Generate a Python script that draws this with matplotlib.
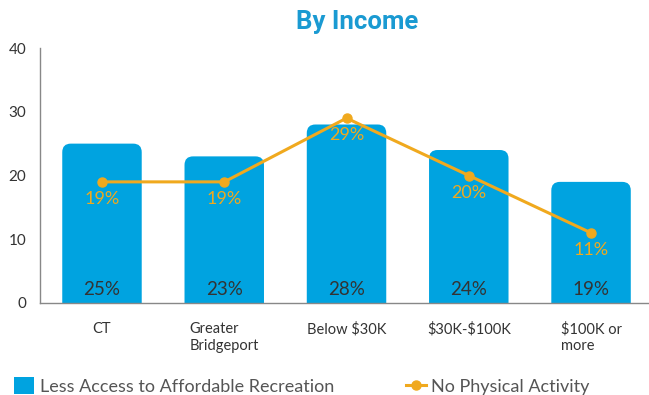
import matplotlib
matplotlib.use("Agg")
import matplotlib.pyplot as plt
from matplotlib.patches import FancyBboxPatch, Patch
from matplotlib.lines import Line2D

# categories and series
categories = ["CT", "Greater\nBridgeport", "Below \\$30K", "\\$30K-\\$100K", "\\$100K or\nmore"]
less_access = [25, 23, 28, 24, 19]
no_activity = [19, 19, 29, 20, 11]

BLUE = "#00A3E0"
ORANGE = "#F0A91E"
TEXT = "#333333"

plt.rcParams["font.family"] = ["Lato", "DejaVu Sans"]

fig = plt.figure(figsize=(6.49, 3.95), dpi=100)
W, H = 649, 395
ax = fig.add_axes([40 / W, 1 - 303 / H, (649 - 40) / W, 255 / H])

x = list(range(len(categories)))
bar_w = 0.65
ax.set_xlim(-0.507, 4.474)
ax.set_ylim(0, 40)

# bars with rounded top corners (bottom pushed below the axis and clipped)
px_x = (649 - 40) / (4.474 + 0.507)
px_y = 255 / 40
aspect = px_x / px_y
for xi, v in zip(x, less_access):
    p = FancyBboxPatch((xi - bar_w / 2, -3), bar_w, v + 3,
                       boxstyle="round,pad=0,rounding_size=0.07",
                       mutation_aspect=aspect,
                       facecolor=BLUE, edgecolor="none", zorder=2)
    ax.add_patch(p)
    ax.annotate(f"{v}%", (xi, 0), xytext=(0, 9.5), textcoords="offset points",
                ha="center", va="center", fontsize=13.5, color=TEXT, zorder=4)

ax.plot(x, no_activity, color=ORANGE, lw=2.2, marker="o", ms=6.5, zorder=3)
for xi, v in zip(x, no_activity):
    ax.annotate(f"{v}%", (xi, v), xytext=(0, -12.5), textcoords="offset points",
                ha="center", va="center", fontsize=13, color=ORANGE, zorder=4)

ax.set_xticks(x)
ax.set_xticklabels(categories, fontsize=10.5, color=TEXT)
for lbl in ax.get_xticklabels():
    lbl.set_multialignment("left")
ax.set_yticks([0, 10, 20, 30, 40])
ax.tick_params(axis="both", length=0, colors=TEXT, labelsize=11)
ax.tick_params(axis="x", pad=14, labelsize=10.5)
ax.tick_params(axis="y", pad=10)

for s in ["top", "right"]:
    ax.spines[s].set_visible(False)
for s in ["left", "bottom"]:
    ax.spines[s].set_color("#888888")
    ax.spines[s].set_linewidth(1)

fig.text(357 / W, 1 - 22 / H, "By Income", ha="center", va="center",
         fontsize=18.5, fontweight="bold", color="#1A9AD2",
         family=["Liberation Sans Narrow", "Roboto", "DejaVu Sans"])

handles = [Patch(facecolor=BLUE, edgecolor="none"),
           Line2D([0], [0], color=ORANGE, lw=2.2, marker="o", ms=6.5)]
fig.legend(handles, ["Less Access to Affordable Recreation", "No Physical Activity"],
           loc="center left", bbox_to_anchor=(-2 / W, 1 - 386 / H), ncol=2,
           frameon=False, fontsize=13, labelcolor="#555555",
           handlelength=1.1, handleheight=1.1, columnspacing=4.0, handletextpad=0.3)

fig.savefig("out.png", dpi=100)
